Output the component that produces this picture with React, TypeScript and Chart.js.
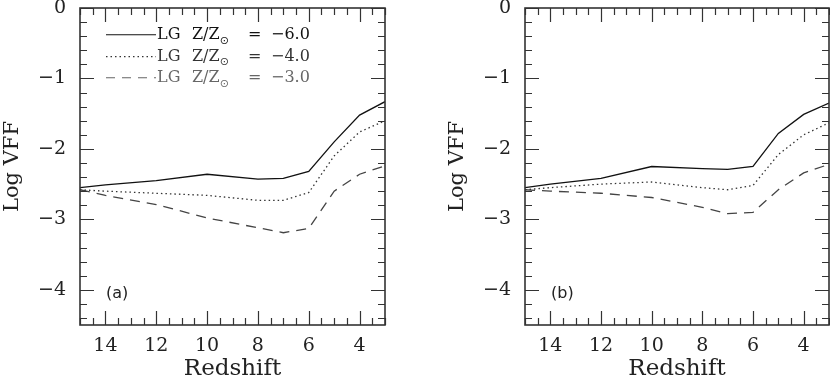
import React, { useEffect, useRef } from "react";
import { Chart, registerables } from "chart.js";
Chart.register(...registerables);

// Redshift sample points (x axis, reversed)
const redshift = [15, 14, 12, 10, 8, 7, 6, 5, 4, 3];

// Panel (a): Log VFF
const panelA_lg6 = [-2.55, -2.51, -2.45, -2.36, -2.43, -2.42, -2.32, -1.9, -1.52, -1.33];
const panelA_lg4 = [-2.58, -2.6, -2.63, -2.66, -2.73, -2.73, -2.62, -2.1, -1.76, -1.6];
const panelA_lg3 = [-2.58, -2.66, -2.79, -2.98, -3.12, -3.19, -3.13, -2.6, -2.36, -2.24];

// Panel (b): Log VFF
const panelB_lg6 = [-2.55, -2.5, -2.42, -2.25, -2.28, -2.29, -2.25, -1.78, -1.51, -1.35];
const panelB_lg4 = [-2.58, -2.55, -2.5, -2.47, -2.55, -2.58, -2.52, -2.08, -1.8, -1.63];
const panelB_lg3 = [-2.58, -2.6, -2.63, -2.69, -2.83, -2.92, -2.9, -2.58, -2.34, -2.22];

const xTickValues = [14, 12, 10, 8, 6, 4];
const yTickValues = [0, -1, -2, -3, -4];
const legendValues = ["−6.0", "−4.0", "−3.0"];
const panelLabels = ["(a)", "(b)"];

const SERIF = "'DejaVu Serif', 'Liberation Serif', serif";
const INK = "#222";

const fmtY = (v: number) => (v < 0 ? "−" + Math.abs(v) : String(v));

const frameTicks = {
  id: "frameTicks",
  afterDraw(chart: any) {
    const { ctx, chartArea: a, scales } = chart;
    const xs = scales.x;
    const ys = scales.y;
    ctx.save();
    ctx.strokeStyle = "#333";
    ctx.lineWidth = 1.2;
    ctx.beginPath();
    for (let i = 0; i <= 24; i++) {
      const v = 3 + i * 0.5;
      const len = i % 4 === 2 ? 14 : 7;
      const px = Math.round(xs.getPixelForValue(v)) + 0.5;
      ctx.moveTo(px, a.bottom);
      ctx.lineTo(px, a.bottom - len);
      ctx.moveTo(px, a.top);
      ctx.lineTo(px, a.top + len);
    }
    for (let i = 0; i <= 22; i++) {
      const v = -i * 0.2;
      const len = i % 5 === 0 ? 14 : 7;
      const py = Math.round(ys.getPixelForValue(v)) + 0.5;
      ctx.moveTo(a.left, py);
      ctx.lineTo(a.left + len, py);
      ctx.moveTo(a.right, py);
      ctx.lineTo(a.right - len, py);
    }
    ctx.stroke();
    ctx.lineWidth = 1.6;
    ctx.strokeRect(a.left, a.top, a.right - a.left, a.bottom - a.top);

    const opts = chart.options.plugins.frameTicks || {};
    // panel label
    ctx.fillStyle = INK;
    ctx.font = "16px 'DejaVu Sans', sans-serif";
    ctx.textBaseline = "middle";
    ctx.textAlign = "left";
    ctx.fillText(opts.label || "", a.left + 26, ys.getPixelForValue(-4.06));

    if (opts.legend) {
      const styles = [
        { dash: [] as number[], color: "#111" },
        { dash: [1.5, 3], color: "#333" },
        { dash: [9, 7], color: "#666" },
      ];
      const rowY = [-0.38, -0.69, -0.99];
      const x0 = a.left + 26;
      const x1 = a.left + 76;
      styles.forEach((s, i) => {
        const y = ys.getPixelForValue(rowY[i]);
        ctx.strokeStyle = s.color;
        ctx.lineWidth = 1.2;
        ctx.setLineDash(s.dash);
        ctx.beginPath();
        ctx.moveTo(x0, y);
        ctx.lineTo(x1, y);
        ctx.stroke();
        ctx.setLineDash([]);
        ctx.fillStyle = s.color;
        ctx.font = "16px " + SERIF;
        ctx.textBaseline = "middle";
        let tx = x1 + 1;
        ctx.fillText("LG", tx, y);
        tx += 35;
        ctx.fillText("Z/Z", tx, y);
        tx += ctx.measureText("Z/Z").width;
        ctx.font = "11px 'DejaVu Sans', sans-serif";
        ctx.fillText("⊙", tx, y + 6);
        ctx.font = "16px " + SERIF;
        ctx.fillText("=", x1 + 92, y);
        ctx.fillText(legendValues[i], x1 + 115, y);
      });
    }
    ctx.restore();
  },
};

function makeConfig(series: number[][], label: string, yWidth: number, padRight: number, yTitlePad: number, legend: boolean): any {
  const dashes = [[], [1.5, 3], [10, 7]];
  const colors = ["#111", "#333", "#444"];
  return {
    type: "line",
    data: {
      datasets: series.map((vals, i) => ({
        data: redshift.map((x, j) => ({ x, y: vals[j] })),
        borderColor: colors[i],
        borderWidth: 1.3,
        borderDash: dashes[i],
        pointRadius: 0,
        tension: 0,
        fill: false,
      })),
    },
    options: {
      responsive: false,
      animation: false,
      layout: { padding: { top: 8, right: padRight, left: 0, bottom: 0 } },
      plugins: {
        legend: { display: false },
        tooltip: { enabled: false },
        frameTicks: { label, legend },
      },
      scales: {
        x: {
          type: "linear",
          min: 3,
          max: 15,
          reverse: true,
          afterFit: (s: any) => {
            s.height = 58;
            s.paddingLeft = 0;
            s.paddingRight = 0;
          },
          afterBuildTicks: (s: any) => {
            s.ticks = xTickValues.map((v) => ({ value: v }));
          },
          grid: { display: false, drawTicks: false },
          border: { display: false },
          ticks: {
            font: { family: SERIF, size: 19 },
            color: INK,
            padding: 10,
            maxRotation: 0,
            autoSkip: false,
            callback: (v: number) => String(v),
          },
          title: {
            display: true,
            text: "Redshift",
            font: { family: SERIF, size: 23 },
            color: INK,
            padding: { top: 0, bottom: 0 },
          },
        },
        y: {
          type: "linear",
          min: -4.5,
          max: 0,
          afterFit: (s: any) => {
            s.width = yWidth;
            s.paddingTop = 0;
            s.paddingBottom = 0;
          },
          afterBuildTicks: (s: any) => {
            s.ticks = yTickValues.map((v) => ({ value: v }));
          },
          grid: { display: false, drawTicks: false },
          border: { display: false },
          ticks: {
            font: { family: SERIF, size: 19 },
            color: INK,
            padding: 14,
            callback: (v: number) => fmtY(v),
          },
          title: {
            display: true,
            text: "Log VFF",
            font: { family: SERIF, size: 21 },
            color: INK,
            padding: { top: yTitlePad, bottom: 0 },
          },
        },
      },
    },
    plugins: [frameTicks],
  };
}

export default function App() {
  const refA = useRef<HTMLCanvasElement>(null);
  const refB = useRef<HTMLCanvasElement>(null);

  useEffect(() => {
    const a = new Chart(refA.current!, makeConfig([panelA_lg6, panelA_lg4, panelA_lg3], panelLabels[0], 80, 30, 0, true));
    const b = new Chart(refB.current!, makeConfig([panelB_lg6, panelB_lg4, panelB_lg3], panelLabels[1], 110, 1, 30, false));
    return () => {
      a.destroy();
      b.destroy();
    };
  }, []);

  return (
    <div style={{ position: "fixed", left: 0, top: 0, width: 830, height: 383, background: "#fff" }}>
      <canvas ref={refA} width={415} height={383} style={{ position: "absolute", left: 0, top: 0, width: 415, height: 383 }} />
      <canvas ref={refB} width={415} height={383} style={{ position: "absolute", left: 415, top: 0, width: 415, height: 383 }} />
    </div>
  );
}
